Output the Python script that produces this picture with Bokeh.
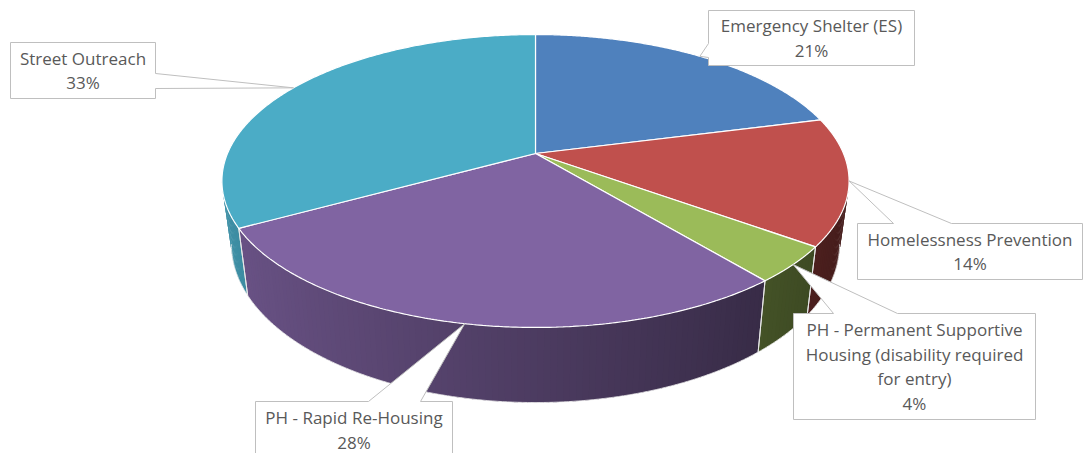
import numpy as np
from bokeh.plotting import figure
from bokeh.models import Range1d
from bokeh.core.properties import value
from bokeh.embed import file_html
from bokeh.resources import INLINE

# ---- data ----
categories = ["Emergency Shelter (ES)", "Homelessness Prevention",
              "PH - Permanent Supportive Housing (disability required for entry)",
              "PH - Rapid Re-Housing", "Street Outreach"]
label_lines = [["Emergency Shelter (ES)"], ["Homelessness Prevention"],
               ["PH - Permanent Supportive", "Housing (disability required", "for entry)"],
               ["PH - Rapid Re-Housing"], ["Street Outreach"]]
shares = [21, 14, 4, 28, 33]
colors = ["#4f81bd", "#c0504d", "#9bbb59", "#8064a2", "#4bacc6"]

# ---- layout (pixel space) ----
W, H = 1084, 453
CX, CY = 535, 153
R, K, S, DEPTH, RB = 308, 0.1877, 141.3, 61, 0.97

# label boxes: (x0, y0, x1, y1), edge of pointer, pointer base
boxes = [
    ((708, 10, 914, 65), "left", (43, 57)),
    ((857, 223, 1082, 279), "top", (893, 951)),
    ((793, 313, 1035, 419), "top", (833, 897)),
    ((255, 401, 452, 458), "top", (368, 420)),
    ((10, 42, 155, 98), "right", (73, 88)),
]


def top_pt(a):
    u, v = np.sin(a), np.cos(a)
    d = 1 + K * v
    return CX + R * u / d, CY - S * v / d


def bot_pt(a):
    u, v = np.sin(a), np.cos(a)
    d = 1 + K * v
    return CX + RB * R * u / d, CY + (-S * v + DEPTH) / d


def hex2rgb(h):
    h = h.lstrip("#")
    return [int(h[i:i + 2], 16) for i in (0, 2, 4)]


def shade(h, f):
    r, g, b = hex2rgb(h)
    return "#%02x%02x%02x" % tuple(int(max(0, min(255, c * f))) for c in (r, g, b))


p = figure(width=W, height=H, x_range=Range1d(0, W), y_range=Range1d(H, 0),
           x_axis_type=None, y_axis_type=None, toolbar_location=None,
           output_backend="svg", min_border=0, outline_line_color=None,
           background_fill_color="white", border_fill_color="white")
p.grid.visible = False

total = float(sum(shares))
bounds = np.concatenate([[0], np.cumsum(shares) / total]) * 2 * np.pi
sil_lo = np.arccos(-K)
sil_hi = 2 * np.pi - sil_lo

# ---- side faces (gradient strips) ----
sx, sy, sc = [], [], []
sep_x, sep_y = [], []
for i, col in enumerate(colors):
    a0, a1 = max(bounds[i], sil_lo), min(bounds[i + 1], sil_hi)
    if a1 <= a0:
        continue
    n = max(2, int(np.degrees(a1 - a0)))
    ts = np.linspace(a0, a1, n + 1)
    dt = ts[1] - ts[0]
    for j in range(n):
        t0, t1 = ts[j], min(ts[j + 1] + 0.6 * dt, a1)
        sub = np.linspace(t0, t1, 4)
        tp = [top_pt(a) for a in sub]
        bp = [bot_pt(a) for a in sub[::-1]]
        um = np.sin((ts[j] + ts[j + 1]) / 2)
        f = 0.6 - 0.25 * um
        sx.append([q[0] for q in tp] + [q[0] for q in bp])
        sy.append([q[1] for q in tp] + [q[1] for q in bp])
        sc.append(shade(col, f))
    for a in (a0, a1):
        if sil_lo < a < sil_hi:
            tx, ty = top_pt(a)
            bx, by = bot_pt(a)
            sep_x.append([tx, bx])
            sep_y.append([ty, by])

p.patches(sx, sy, fill_color=sc, line_color=None)
p.multi_line(sep_x, sep_y, line_color="#e6e6e6", line_width=1)

# bottom rim line
rim = np.linspace(sil_lo, sil_hi, 200)
rb = [bot_pt(a) for a in rim]
p.line([q[0] for q in rb], [q[1] for q in rb], line_color="#eeeeee", line_width=0.8)

# ---- top faces ----
tx_all, ty_all = [], []
for i in range(len(shares)):
    ts = np.linspace(bounds[i], bounds[i + 1], 200)
    pts = [top_pt(a) for a in ts]
    tx_all.append([CX] + [q[0] for q in pts])
    ty_all.append([CY] + [q[1] for q in pts])
p.patches(tx_all, ty_all, fill_color=colors, line_color="white", line_width=1.2)

# ---- callouts ----
cx_all, cy_all = [], []
txt_x, txt_y, txt = [], [], []
for i, ((x0, y0, x1, y1), edge, (b0, b1)) in enumerate(boxes):
    mid = (bounds[i] + bounds[i + 1]) / 2
    ax, ay = top_pt(mid)
    if edge == "top":
        xs = [x0, b0, ax, b1, x1, x1, x0]
        ys = [y0, y0, ay, y0, y0, y1, y1]
    elif edge == "right":
        xs = [x0, x1, x1, ax, x1, x1, x0]
        ys = [y0, y0, b0, ay, b1, y1, y1]
    else:
        xs = [x0, x1, x1, x0, x0, ax, x0]
        ys = [y0, y0, y1, y1, b1, ay, b0]
    cx_all.append(xs)
    cy_all.append(ys)
    lines = label_lines[i] + ["%d%%" % round(shares[i] / total * 100)]
    n = len(lines)
    cxm, cym = (x0 + x1) / 2, (y0 + y1) / 2
    step = 24.5
    for k, ln in enumerate(lines):
        txt_x.append(cxm)
        txt_y.append(cym + (k - (n - 1) / 2) * step)
        txt.append(ln)

p.patches(cx_all, cy_all, fill_color="white", line_color="#bfbfbf", line_width=1)
p.text(txt_x, txt_y, text=txt, text_align="center", text_baseline="middle",
       text_font=value("Open Sans"), text_font_size="17px", text_color="#595959")

open("out.html", "w").write(file_html(p, INLINE))
